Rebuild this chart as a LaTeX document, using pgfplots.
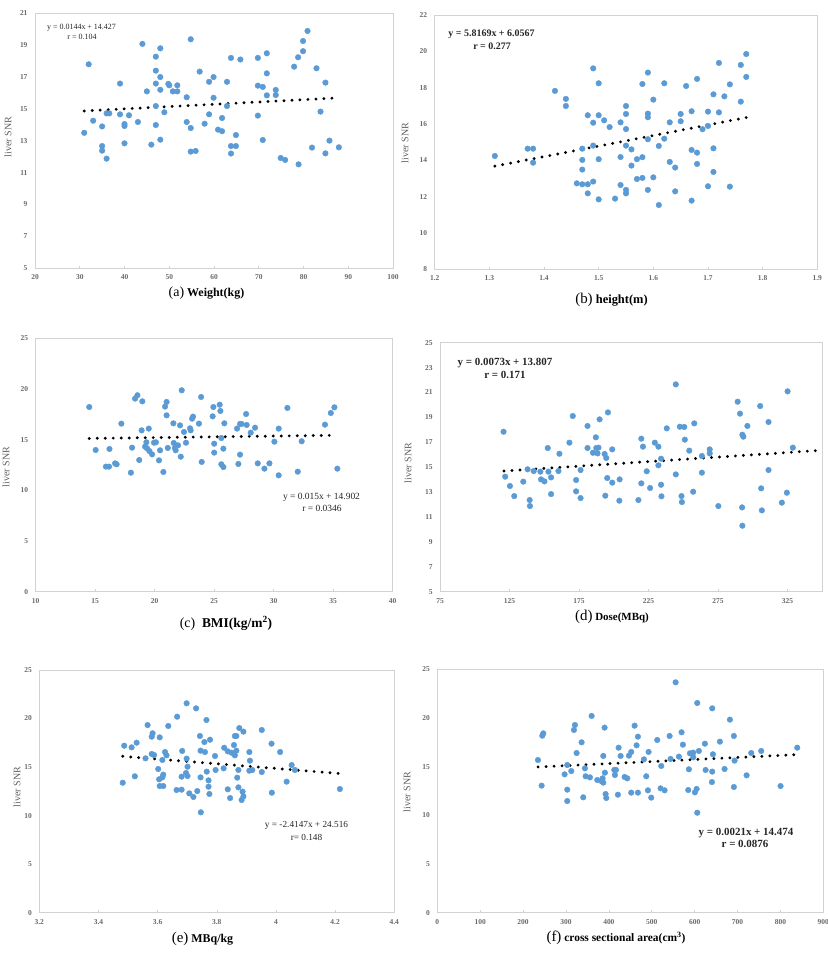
\documentclass[border=0pt]{standalone}
\usepackage{pgfplots}
\pgfplotsset{compat=1.18}
\usepackage{fontspec}
\setmainfont{Liberation Serif}

\definecolor{dotblue}{RGB}{91,155,213}
\definecolor{framegray}{RGB}{210,210,210}
\definecolor{ticktext}{RGB}{105,105,105}
\definecolor{labeltext}{RGB}{95,95,95}

\pgfplotsset{
  panel/.style={
    scale only axis, anchor=south west, clip=false,
    axis line style={draw=framegray, line width=0.8bp},
    xtick pos=bottom, ytick pos=left,
    xtick align=inside, major tick length=2.5bp, minor tick length=0pt,
    xtick style={draw=framegray, line width=0.6bp},
    ytick style={draw=none},
    /pgf/number format/assume math mode=true,
    tick label style={font=\fontsize{7.5}{8}\selectfont\bfseries, text=ticktext},
    xticklabel style={yshift=-3bp},
    yticklabel style={xshift=-4bp},
  },
  pts/.style={only marks, mark=*, mark size=2.8bp,
    mark options={fill=dotblue, draw=dotblue}},
  trend/.style={black, line width=3.2bp, line cap=round,
    dash pattern=on 0bp off 8bp},
}

\newcommand{\ylab}[2]{\node[rotate=90, text=labeltext,
  font=\fontsize{10}{11}\selectfont] at (#1,{956-#2}) {liver SNR};}
\newcommand{\eqn}[4]{\node[text=black!85, font=\fontsize{#3}{#3}\selectfont] at (#1,{956-#2}) {#4};}

\begin{document}
\begin{tikzpicture}[x=1bp, y=1bp]
\path[use as bounding box, fill=white] (0,0) rectangle (828,956);

% ---------------- (a) weight ----------------
\begin{axis}[panel, at={(35bp,687.7bp)}, width=358bp, height=255bp,
  xmin=20, xmax=100, ymin=5, ymax=21,
  xtick={20,30,...,100}, ytick={5,7,...,21}]
\addplot[pts] coordinates {
(31,13.50) (32,17.80) (33,14.26) (35,13.90) (35,12.67) (35,12.38) (36,11.88)
(36,14.72) (36.6,14.72) (39,16.59) (39,14.66) (40,14.05) (40,13.93) (40,12.84)
(41,14.60) (43,14.18) (44,19.08) (45,16.10) (46,12.76) (47,18.28) (47,17.40)
(47,16.59) (47,15.18) (47,13.99) (48,18.80) (48,17.00) (48,16.20) (48,13.07)
(48.9,14.79) (49.8,16.57) (50,16.48) (50.8,16.10) (51.8,16.48) (51.8,16.10)
(53.9,15.73) (53.9,14.18) (54.8,19.37) (54.8,13.80) (54.8,12.32) (55.9,12.36)
(56.8,17.34) (57.9,14.07) (58.9,16.70) (58.9,14.66) (59.9,17.00) (59.9,15.70)
(60.9,13.70) (61.8,13.60) (61.8,14.43) (62.9,16.70) (62.9,15.18) (63.8,18.20)
(63.8,12.67) (63.8,12.20) (64.9,13.36) (64.9,12.67) (65.9,18.10) (69.8,18.20)
(69.8,16.46) (69.8,14.58) (70.9,16.38) (70.9,13.05) (71.8,18.49) (71.8,17.23)
(71.8,15.85) (73.8,16.19) (73.8,15.87) (74.9,11.92) (75.9,11.80) (77.9,17.65)
(78.8,18.24) (78.9,11.52) (79.9,18.62) (79.9,19.26) (80.9,19.89) (81.9,12.57)
(82.9,17.55) (83.8,14.83) (84.9,16.65) (84.9,12.21) (85.8,13.01) (87.9,12.59)
};
\addplot[trend] coordinates {(31,14.873) (88,15.694)};
\end{axis}

% ---------------- (b) height ----------------
\begin{axis}[panel, at={(434.7bp,686.7bp)}, width=382.6bp, height=254.3bp,
  xmin=1.2, xmax=1.9, ymin=8, ymax=22,
  xtick={1.2,1.3,...,1.9}, ytick={8,10,...,22},
  xticklabel style={/pgf/number format/.cd, fixed, precision=1}]
\addplot[pts] coordinates {
(1.31,14.24) (1.37,14.64) (1.38,14.64) (1.38,13.87) (1.42,17.82) (1.44,17.38)
(1.44,16.99) (1.46,12.73) (1.47,12.68) (1.47,14.02) (1.47,13.49) (1.47,14.64)
(1.48,12.68) (1.48,12.18) (1.48,16.48) (1.49,19.06) (1.49,16.07) (1.49,14.81)
(1.49,12.83) (1.50,18.24) (1.50,16.48) (1.50,14.06) (1.50,11.85) (1.51,16.20)
(1.52,15.83) (1.53,11.89) (1.54,16.09) (1.54,14.18) (1.54,12.64) (1.55,16.99)
(1.55,16.55) (1.55,15.72) (1.55,14.81) (1.55,12.37) (1.55,12.18) (1.56,14.60)
(1.56,13.71) (1.57,12.97) (1.57,14.06) (1.58,18.20) (1.58,14.17) (1.58,13.03)
(1.59,18.83) (1.59,16.57) (1.59,16.37) (1.59,15.16) (1.59,12.37) (1.60,17.34)
(1.60,13.06) (1.61,14.79) (1.61,11.54) (1.62,18.24) (1.62,15.19) (1.63,16.09)
(1.63,13.91) (1.64,13.60) (1.64,12.29) (1.65,16.55) (1.65,16.15) (1.66,18.09)
(1.67,16.70) (1.67,14.57) (1.67,11.78) (1.68,18.48) (1.68,14.42) (1.68,13.80)
(1.69,15.71) (1.70,16.68) (1.70,15.89) (1.70,12.57) (1.71,17.63) (1.71,14.66)
(1.71,13.36) (1.72,19.36) (1.72,16.64) (1.73,17.52) (1.74,18.18) (1.74,12.55)
(1.76,19.25) (1.76,17.23) (1.77,19.85) (1.77,18.59)
};
\addplot[trend] coordinates {(1.31,13.677) (1.78,16.411)};
\end{axis}

% ---------------- (c) BMI ----------------
\begin{axis}[panel, at={(35.7bp,364.3bp)}, width=357bp, height=253.4bp,
  xmin=10, xmax=40, ymin=0, ymax=25,
  xtick={10,15,...,40}, ytick={0,5,...,25}]
\addplot[pts] coordinates {
(14.5,18.22) (15.04,13.98) (15.9,12.34) (16.16,12.34) (16.2,14.08) (16.67,12.66)
(16.8,12.57) (17.2,16.58) (18.0,11.74) (18.1,14.21) (18.35,19.05) (18.55,19.38)
(18.7,12.99) (18.9,15.92) (18.96,18.78) (19.19,14.31) (19.3,14.74) (19.5,16.09)
(19.36,14.14) (19.55,13.88) (19.78,13.55) (19.94,14.70) (20.1,14.74) (20.36,12.96)
(20.45,13.95) (20.73,11.81) (20.87,18.26) (21.0,18.72) (21.0,17.40) (21.1,14.18)
(21.57,16.61) (21.6,14.67) (21.7,14.18) (21.76,13.95) (21.96,14.44) (22.13,16.41)
(22.19,13.32) (22.27,19.87) (22.46,15.76) (22.63,14.70) (22.97,16.12) (23.02,15.92)
(23.14,17.07) (23.22,17.27) (23.72,16.58) (23.9,19.21) (23.95,12.80) (24.87,17.30)
(24.93,18.22) (25.0,14.60) (25.0,13.72) (25.46,18.45) (25.52,17.83) (25.6,15.16)
(25.6,12.57) (25.77,12.30) (25.77,14.11) (25.85,16.61) (26.92,16.09) (27.03,12.60)
(27.17,16.55) (27.17,13.52) (27.3,16.55) (27.68,17.53) (27.73,16.45) (28.07,15.69)
(28.43,16.18) (28.66,12.66) (29.22,12.14) (29.64,12.66) (30.06,14.80) (30.42,16.09)
(30.42,11.48) (31.15,18.13) (32.02,11.84) (32.35,14.84) (34.31,16.48) (34.8,17.63)
(35.1,18.19) (35.35,12.14)
};
\addplot[trend] coordinates {(14.5,15.120) (35.3,15.432)};
\end{axis}

% ---------------- (d) dose ----------------
\begin{axis}[panel, at={(440bp,364.3bp)}, width=382.3bp, height=249bp,
  xmin=75, xmax=350, ymin=5, ymax=25,
  xtick={75,125,...,325}, ytick={5,7,...,25}]
\addplot[pts] coordinates {
(120.7,17.85) (121.9,14.24) (125.3,13.49) (128.4,12.68) (134.9,13.84) (138,14.83)
(139.5,12.36) (139.7,11.88) (142.4,14.69) (147.2,14.64) (147.7,14.02) (150.1,13.86)
(152.5,16.54) (153,14.64) (154.9,14.18) (154.9,12.84) (160.2,14.69) (160.9,16.08)
(168.1,16.97) (170.5,19.11) (172.9,13.97) (172.9,13.06) (176.1,14.77) (176.1,12.52)
(181.1,18.31) (181.1,16.54) (185,16.16) (187.1,17.40) (187.4,16.54) (188.3,16.11)
(189,16.57) (189.8,18.84) (193.4,16.06) (193.9,12.71) (194.6,15.74) (195.8,19.40)
(195.3,14.13) (198.9,16.43) (198.9,13.76) (204,12.31) (204.2,14.02) (217.7,12.36)
(219.8,17.29) (219.8,13.70) (221,16.65) (223.7,14.67) (226.1,13.33) (229.5,16.97)
(232.1,16.65) (232.1,15.15) (234,15.68) (234,13.59) (234.3,12.66) (238.1,18.12)
(244.6,21.65) (244.6,14.42) (247.5,18.25) (248.7,12.68) (249,12.20) (250.7,18.23)
(251.1,17.21) (254.3,16.33) (257.1,13.03) (257.9,18.52) (263.4,15.90) (263.4,14.56)
(269,16.43) (269,16.11) (275.2,11.88) (289.1,20.26) (290.8,19.30) (292.5,17.61)
(293.2,17.45) (292.3,11.77) (292.5,10.30) (296.1,18.31) (305.3,19.91) (306,13.30)
(306.5,11.53) (311.3,18.63) (311.3,14.77) (320.9,12.15) (324.5,12.95) (325,21.09)
(328.8,16.57)
};
\addplot[trend] coordinates {(121,14.690) (345,16.326)};
\end{axis}

% ---------------- (e) MBq/kg ----------------
\begin{axis}[panel, at={(39.3bp,43.3bp)}, width=355bp, height=242.7bp,
  xmin=3.2, xmax=4.4, ymin=0, ymax=25,
  xtick={3.2,3.4,...,4.4}, ytick={0,5,...,25},
  xticklabel style={/pgf/number format/.cd, fixed, precision=1}]
\addplot[pts] coordinates {
(3.482,13.39) (3.487,17.20) (3.512,17.03) (3.523,14.05) (3.529,17.51) (3.559,15.90)
(3.566,19.33) (3.58,16.35) (3.58,18.13) (3.583,18.48) (3.588,16.24) (3.607,18.06)
(3.602,14.80) (3.605,13.74) (3.607,13.05) (3.616,15.73) (3.616,13.94) (3.619,14.22)
(3.619,13.05) (3.625,16.55) (3.63,16.21) (3.636,19.23) (3.664,12.64) (3.666,20.19)
(3.681,14.01) (3.681,12.67) (3.683,16.66) (3.696,14.39) (3.698,21.57) (3.698,15.87)
(3.701,15.04) (3.701,14.08) (3.707,12.29) (3.721,11.92) (3.73,21.05) (3.734,12.53)
(3.743,18.20) (3.745,16.69) (3.745,13.94) (3.746,10.34) (3.76,16.55) (3.758,17.58)
(3.766,14.53) (3.765,19.85) (3.772,12.98) (3.772,13.63) (3.775,12.23) (3.777,17.82)
(3.794,16.14) (3.796,14.70) (3.823,14.87) (3.825,16.99) (3.837,16.62) (3.837,12.71)
(3.845,11.81) (3.85,16.48) (3.858,17.27) (3.861,18.20) (3.861,16.21) (3.866,18.20)
(3.866,16.69) (3.869,13.91) (3.873,14.70) (3.873,12.91) (3.876,19.02) (3.884,11.61)
(3.887,12.47) (3.89,11.98) (3.89,18.65) (3.91,16.55) (3.912,15.66) (3.91,14.63)
(3.92,14.70) (3.952,18.82) (3.952,14.49) (3.985,17.41) (3.986,12.36) (4.014,16.55)
(4.036,13.50) (4.053,15.21) (4.064,14.70) (4.216,12.74)
};
\addplot[trend] coordinates {(3.482,16.108) (4.216,14.336)};
\end{axis}

% ---------------- (f) cross sectional area ----------------
\begin{axis}[panel, at={(437.3bp,43.3bp)}, width=386bp, height=243.4bp,
  xmin=0, xmax=900, ymin=0, ymax=25,
  xtick={0,100,...,900}, ytick={0,5,...,25}]
\addplot[pts] coordinates {
(234.7,15.68) (243.2,13.05) (244.8,18.18) (247.1,18.42) (296.8,14.21) (303,15.17)
(303,12.64) (303,11.47) (312.4,14.55) (318.6,18.77) (320.9,19.28) (324.8,16.40)
(336.4,17.50) (340.3,11.85) (344.2,14.83) (345.8,14.01) (355.9,13.90) (359.8,20.21)
(373,13.63) (383.1,13.49) (385.4,13.80) (387,16.10) (387,13.36) (390,19.01)
(390.8,14.38) (392.4,12.19) (394,11.78) (412.6,14.66) (414.1,14.14) (416.5,14.66)
(421.1,12.12) (422.7,16.95) (427.4,16.10) (436.7,13.94) (442.9,13.80) (446.8,16.13)
(452.2,16.51) (452.2,12.33) (460,19.21) (464.6,17.19) (467.8,18.08) (467.8,12.33)
(481.7,15.75) (487.2,14.01) (491.1,12.57) (492.6,16.51) (498.8,11.82) (512.8,17.74)
(520.6,12.77) (522.1,15.07) (529.9,12.57) (541.6,18.15) (543.9,15.79) (555.6,23.66)
(563.3,16.03) (569.5,18.53) (572.6,17.26) (585.1,12.60) (586.6,14.73) (589,16.37)
(596.7,16.44) (596.7,15.96) (600.6,12.36) (604.5,12.71) (606.1,10.27) (606.1,21.54)
(609.9,16.61) (623.9,17.36) (625.5,14.66) (641,20.99) (641,14.49) (642.6,16.27)
(640.3,13.42) (658.9,17.57) (669.8,14.76) (682.2,19.83) (691.5,18.15) (691.5,12.91)
(693.1,15.62) (721.1,14.11) (732,16.40) (755.2,16.61) (800.3,13.01) (839.2,16.95)
};
\addplot[trend] coordinates {(235,14.968) (835,16.228)};
\end{axis}

% axis titles on the left of each panel
\ylab{8}{137}
\ylab{405}{143}
\ylab{6}{467}
\ylab{408}{463}
\ylab{17}{787}
\ylab{407}{792}

% regression equations
\eqn{81.5}{27.7}{8}{y = 0.0144x + 14.427}
\eqn{82}{37.3}{8}{r = 0.104}
\eqn{491.5}{34}{10}{\bfseries y = 5.8169x + 6.0567}
\eqn{492}{46}{10}{\bfseries r = 0.277}
\eqn{321.5}{497}{9.5}{y = 0.015x + 14.902}
\eqn{322}{508}{9.5}{r = 0.0346}
\eqn{505}{363}{11}{\bfseries y = 0.0073x + 13.807}
\eqn{505}{375}{11}{\bfseries r = 0.171}
\eqn{306.5}{825}{9.3}{y = -2.4147x + 24.516}
\eqn{306.5}{837}{9.3}{r= 0.148}
\eqn{746}{833}{11}{\bfseries y = 0.0021x + 14.474}
\eqn{745}{844}{11}{\bfseries r = 0.0876}

% panel captions
\node[font=\fontsize{12}{14}\selectfont] at (206.5,{956-293}) {{\fontsize{14}{14}\selectfont(a)} \textbf{Weight(kg)}};
\node[font=\fontsize{12.5}{14}\selectfont] at (611.5,{956-300}) {{\fontsize{15}{15}\selectfont(b)} \textbf{height(m)}};
\node[font=\fontsize{13.5}{15}\selectfont] at (226,{956-623}) {{\fontsize{14}{14}\selectfont(c)}\ \ \textbf{BMI(kg/m\textsuperscript{2})}};
\node[font=\fontsize{11}{14}\selectfont] at (612,{956-617}) {{\fontsize{15}{15}\selectfont(d)} \textbf{Dose(MBq)}};
\node[font=\fontsize{12}{14}\selectfont] at (202.5,{956-939}) {{\fontsize{15}{15}\selectfont(e)} \textbf{MBq/kg}};
\node[font=\fontsize{11.5}{14}\selectfont] at (616,{956-938}) {{\fontsize{15}{15}\selectfont(f)} \textbf{cross sectional area(cm\textsuperscript{3})}};
\end{tikzpicture}
\end{document}
